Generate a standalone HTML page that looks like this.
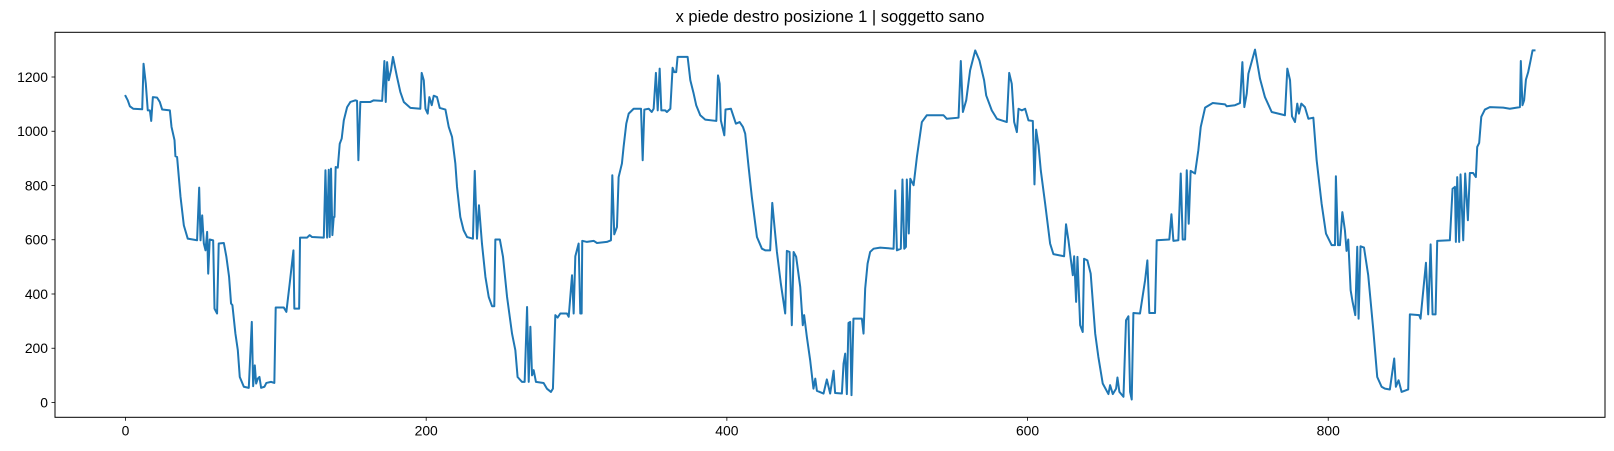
<!DOCTYPE html>
<html><head><meta charset="utf-8"><style>
html,body{margin:0;padding:0;background:#fff;}
svg{display:block;font-family:"Liberation Sans",sans-serif;}
</style></head><body>
<svg id="chart" width="1614" height="451">
<text x="830" y="22" text-anchor="middle" font-size="16.5" fill="#000">x piede destro posizione 1 | soggetto sano</text>
<g id="plot"></g>
</svg>
<script>
const xIdx=[0,1.5,2.9,5.1,11.1,12,13.5,14.8,16.2,17.1,18.2,21,22.8,24.4,29.5,30.6,32.6,33.2,34.3,36.6,38.8,41.4,47.6,49,49.9,51,52.1,53.2,54.3,55,56,58.3,59.2,60.9,62,65.4,67.1,68.9,70.2,71.1,73.1,74.7,76,78.7,82,84,84.9,86,86.9,88,89.1,90.2,92.4,93.7,96.8,99,99.9,105.3,107,109.2,111.7,112.3,115.5,116.1,120.8,122.5,124.1,131.9,133,134.1,135.2,135.8,136.7,137.6,138.5,139,139.8,141.2,142.5,143.8,145.2,147.4,149.6,152.9,154,154.9,156.2,162.9,165.1,170.7,172.2,173.1,174,175.1,176.6,177.9,180.6,182.8,185.1,189.5,196.1,197,198.4,199.5,201,202.1,203.7,205,207.2,209,212.8,215,217.2,219.4,220.5,222.7,224.9,227.2,231.1,232.3,233.8,235.1,237.1,239.4,241.6,243.8,245.3,246,249,251.1,253.8,257.1,259.3,260.8,263.7,265.5,267.1,268.2,269.3,270.4,271.5,273,278.1,280.3,283,284.3,285.9,287.4,289.2,293.6,294.8,297,298.1,299.2,301.4,302.5,303.4,303.8,306.9,311.4,313.6,320.2,322.9,323.8,325.1,326.9,328,329.1,330.2,331.3,333.1,334.7,338,342.9,344,345.1,348,350,351.3,352.8,354,355.3,356.4,359,360.1,362.4,363.9,365,366.3,367.2,373.9,375.7,377.9,379.6,382.3,385.6,393,394.1,395.2,396,398.3,399.1,402.7,406,408.5,410.7,412.2,414.4,416.6,420,423.3,425.5,428.8,430.2,431.7,433.3,435.9,438.8,439.9,441.7,443.2,444.4,446.1,448.8,450.5,451.4,453.2,455.4,457.6,458.8,459.9,464.3,466.5,468.7,471,472,476.5,477.6,478.7,479.8,480.9,482,482.9,484.2,489.8,490.9,492,493.6,495.3,497.6,502,510.9,512,513.1,515.7,516.8,518,519.1,519.7,521,522,524.2,526.4,529.7,533,544.1,546.3,554.1,555.6,557,559.2,561.8,565.2,568,571.1,572.5,576.2,579.6,586.2,587.8,589.5,591.1,592.9,594,596.2,598.4,600.6,603.5,604.6,605.7,607.3,608.8,611.7,615,617.2,624.3,625.6,627.2,630.1,631,632.3,633.2,635,636.7,637.6,639.8,642,645,647.1,650,653.8,654.9,656.7,658.9,659.8,661.1,663.8,665.5,667.1,668.2,669.3,670.4,674.8,678.2,679.7,681,684.8,685.9,694.3,695.7,697,700.3,701.9,703.2,704.8,705.9,707.2,708.5,711.4,713.6,715.2,718.1,723.2,731.4,732.5,738,741.3,742.9,744.2,745.8,746.9,751.3,754.6,757.9,762.4,771.2,772.8,774.6,775.9,777.9,779.4,780.5,782.1,784.5,786.8,790.1,792.3,795.6,798.5,802.3,804.5,805.1,806.5,807.8,809.4,811.1,812.2,813.3,814.9,816.2,818,819.3,820.2,821.5,823.8,826.6,830,832.6,835.5,837.7,841,843.9,845,846.8,848.8,853.2,854.3,860.5,861.4,865,866.5,868.1,869.4,871.4,872.5,880.9,882.7,884.3,884.9,885.8,887.1,888,889.8,891.1,892.9,894.2,896.4,898.2,899.1,900.4,901.8,904.2,907.5,916.4,920.8,927.5,928.1,929.2,930.3,931.5,933,934.6,935.9,937.2];
const yVal=[1130,1114,1092,1083,1081,1249,1175,1077,1077,1038,1126,1124,1108,1080,1077,1016,967,908,905,758,653,604,598,792,598,690,586,561,629,475,601,598,346,328,586,588,537,463,365,359,254,193,94,58,54,297,60,137,70,88,94,54,58,72,76,72,350,350,334,438,561,346,346,608,608,617,610,608,856,608,858,610,862,617,684,684,868,866,954,973,1040,1089,1108,1114,1112,893,1108,1108,1114,1112,1259,1108,1255,1188,1225,1274,1200,1145,1108,1086,1083,1215,1188,1083,1065,1126,1096,1131,1126,1086,1080,1016,979,881,795,684,635,610,604,854,604,727,586,463,389,355,355,601,601,537,389,254,193,94,76,76,352,76,279,100,119,76,72,51,39,51,322,313,328,328,316,469,328,539,586,328,328,596,592,596,588,592,598,838,620,647,831,856,881,942,1028,1065,1083,1083,893,1080,1083,1071,1083,1215,1077,1231,1077,1077,1071,1083,1234,1218,1218,1274,1274,1188,1139,1096,1059,1043,1038,1206,1175,1040,985,1080,1083,1028,1034,1016,991,871,758,610,567,561,561,736,647,555,438,328,559,555,285,555,537,426,285,322,242,156,51,88,43,33,85,33,117,35,33,143,180,31,293,297,27,309,309,254,420,512,555,567,571,567,782,561,567,822,567,574,822,623,825,801,905,1034,1059,1059,1046,1050,1259,1071,1114,1225,1298,1261,1188,1132,1077,1046,1034,1215,1175,1034,997,1083,1077,1083,1040,1038,804,1006,948,856,733,586,547,539,657,598,469,539,371,537,285,260,530,524,475,254,168,70,31,64,31,51,92,39,21,303,318,39,11,330,328,451,524,330,330,598,601,694,596,598,844,601,601,856,659,854,844,930,1016,1087,1104,1099,1092,1096,1104,1255,1089,1139,1212,1301,1194,1126,1071,1059,1231,1188,1055,1034,1102,1065,1102,1089,1046,1050,893,733,623,580,580,834,580,580,702,635,559,601,414,371,322,574,309,576,571,469,266,94,58,51,48,162,58,82,39,48,325,322,309,515,325,583,325,325,596,598,788,795,592,831,592,841,598,844,672,846,846,831,942,957,1053,1080,1089,1087,1083,1089,1259,1096,1114,1190,1218,1261,1298,1298];
const xTicks=[0,200,400,600,800];
const yTicks=[0,200,400,600,800,1000,1200];

const L=55,R=1605,T=32.3,B=417.3;
const xMin=-46.9,xMax=984.1,yMin=-54.6,yMax=1364.8;
const sx=v=>L+(v-xMin)/(xMax-xMin)*(R-L);
const sy=v=>B-(v-yMin)/(yMax-yMin)*(B-T);
const NS='http://www.w3.org/2000/svg';
const plot=document.getElementById('plot');
function mk(tag,attrs){const e=document.createElementNS(NS,tag);for(const k in attrs)e.setAttribute(k,attrs[k]);plot.appendChild(e);return e;}

let d='';
for(let i=0;i<xIdx.length;i++){d+=(i?'L':'M')+sx(xIdx[i]).toFixed(2)+' '+sy(yVal[i]).toFixed(2);}
const line=mk('path',{d:d,fill:'none',stroke:'#1f77b4','stroke-width':2,'stroke-linejoin':'round','stroke-linecap':'square'});



const frame=mk('rect',{x:L,y:T,width:R-L,height:B-T,fill:'none',stroke:'#000','stroke-width':1});



xTicks.forEach(t=>{
  const x=sx(t);
  const tk=mk('line',{x1:x,x2:x,y1:B,y2:B+3.5,stroke:'#000','stroke-width':0.8});
  
  
  const lb=mk('text',{x:x,y:B+18,'text-anchor':'middle','font-size':13.9,fill:'#000'});
  lb.textContent=t;
  
  
});
yTicks.forEach(t=>{
  const y=sy(t);
  const tk=mk('line',{x1:L-3.5,x2:L,y1:y,y2:y,stroke:'#000','stroke-width':0.8});
  
  
  const lb=mk('text',{x:L-7,y:y+5,'text-anchor':'end','font-size':13.9,fill:'#000'});
  lb.textContent=t;
  
  
});
</script>
</body></html>
